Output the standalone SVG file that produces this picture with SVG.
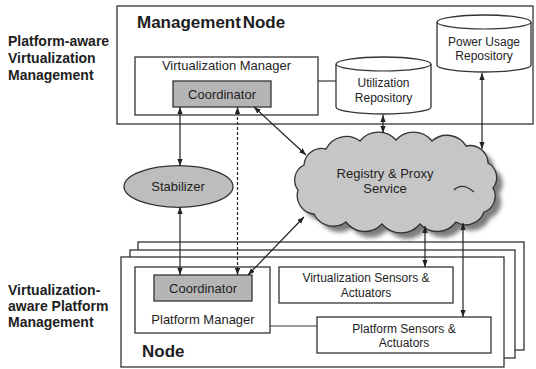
<svg xmlns="http://www.w3.org/2000/svg" width="536" height="369" viewBox="0 0 536 369">
  <style>
    .box { fill: #ffffff; stroke: #333333; stroke-width: 1.3; }
    .gray { fill: #b5b5b5; stroke: #333333; stroke-width: 1.3; }
    .lbl { font-family: "Liberation Sans", Arial, sans-serif; font-size: 13px; fill: #1e1e1e; }
    .sm { font-family: "Liberation Sans", Arial, sans-serif; font-size: 12px; fill: #1e1e1e; }
    .hd { font-family: "Liberation Sans", Arial, sans-serif; font-size: 14px; font-weight: bold; fill: #1e1e1e; }
    .title { font-family: "Liberation Sans", Arial, sans-serif; font-size: 17px; font-weight: bold; fill: #1e1e1e; }
    .link { fill: none; stroke: #222222; stroke-width: 1.2; marker-start: url(#ah); marker-end: url(#ah); }
    .plain { fill: none; stroke: #333333; stroke-width: 1.2; }
    .dash { stroke-dasharray: 3 2; }
  </style>
  <defs>
    <marker id="ah" viewBox="0 0 8 6" refX="8" refY="3" markerWidth="7" markerHeight="5.5" markerUnits="userSpaceOnUse" orient="auto-start-reverse">
      <path d="M0,0 L8,3 L0,6 z" fill="#222222"/>
    </marker>
    <filter id="soft" x="-10%" y="-10%" width="120%" height="120%">
      <feGaussianBlur stdDeviation="2"/>
    </filter>
    <path id="cloudShape" d="M298,190 A16.7,16.7 0 0 1 304,165 A17.7,17.7 0 0 1 326,149 A22.7,22.7 0 0 1 360,141 A23.4,23.4 0 0 1 396,140 A23.4,23.4 0 0 1 432,141 A22.3,22.3 0 0 1 466,146 A18,18 0 0 1 488,163 A16.6,16.6 0 0 1 493,188 A16.7,16.7 0 0 1 484,212 A19.3,19.3 0 0 1 456,222 A23.4,23.4 0 0 1 420,224 A24.7,24.7 0 0 1 382,224 A23.4,23.4 0 0 1 346,222 A21.4,21.4 0 0 1 314,214 A18.7,18.7 0 0 1 298,190 Z"/>
  </defs>

  <!-- side captions -->
  <g id="caption-top">
    <text class="hd" x="8" y="46">Platform-aware</text>
    <text class="hd" x="8" y="63">Virtualization</text>
    <text class="hd" x="8" y="80">Management</text>
  </g>
  <g id="caption-bottom">
    <text class="hd" x="8" y="295">Virtualization-</text>
    <text class="hd" x="8" y="311">aware Platform</text>
    <text class="hd" x="8" y="327">Management</text>
  </g>

  <!-- management node -->
  <g id="management-node">
    <rect class="box" x="117" y="6" width="416" height="118" stroke-width="1.6"/>
    <text class="title" x="137" y="28" word-spacing="-3">Management Node</text>
  </g>
  <g id="virtualization-manager">
    <rect class="box" x="135" y="57" width="183" height="58"/>
    <text class="lbl" x="226.5" y="70" text-anchor="middle">Virtualization Manager</text>
  </g>
  <g id="coordinator-top">
    <rect class="gray" x="173" y="81" width="98" height="26"/>
    <text class="lbl" x="222" y="98.5" text-anchor="middle">Coordinator</text>
  </g>
  <g id="utilization-repository">
    <path class="box" d="M336,64 A47.5,7 0 0 1 431,64 V107 A47.5,7 0 0 1 336,107 Z"/>
    <path class="plain" d="M336,64 A47.5,7 0 0 0 431,64"/>
    <text class="sm" x="383.5" y="87" text-anchor="middle">Utilization</text>
    <text class="sm" x="383.5" y="102" text-anchor="middle">Repository</text>
  </g>
  <g id="power-usage-repository">
    <path class="box" d="M437,22 A47,7 0 0 1 531,22 V65 A47,7 0 0 1 437,65 Z"/>
    <path class="plain" d="M437,22 A47,7 0 0 0 531,22"/>
    <text class="sm" x="484" y="46" text-anchor="middle">Power Usage</text>
    <text class="sm" x="484" y="60" text-anchor="middle">Repository</text>
  </g>

  <!-- stabilizer -->
  <g id="stabilizer">
    <ellipse cx="178.5" cy="186.5" rx="54.5" ry="20.8" fill="#bdbdbd" stroke="#333333" stroke-width="1.3"/>
    <text class="lbl" x="178" y="191" text-anchor="middle">Stabilizer</text>
  </g>

  <!-- registry cloud -->
  <g id="registry-proxy">
    <use href="#cloudShape" transform="translate(6,6)" fill="#7d7d7d" filter="url(#soft)"/>
    <use href="#cloudShape" fill="#c6c6c6" stroke="#333333" stroke-width="1.3"/>
    <path class="plain" d="M454,190 Q462,182 474,192"/>
    <text class="lbl" x="385" y="178" text-anchor="middle">Registry &amp; Proxy</text>
    <text class="lbl" x="385" y="193" text-anchor="middle">Service</text>
  </g>

  <!-- platform node stack -->
  <g id="node">
    <rect class="box" x="138" y="242" width="386" height="108"/>
    <rect class="box" x="130" y="250" width="385" height="108"/>
    <rect class="box" x="121" y="257" width="383" height="110"/>
    <text class="title" x="142" y="357">Node</text>
  </g>
  <g id="platform-manager">
    <rect class="box" x="135" y="267" width="135" height="66"/>
    <text class="lbl" x="203" y="323.5" text-anchor="middle">Platform Manager</text>
  </g>
  <g id="coordinator-bottom">
    <rect class="gray" x="154" y="275" width="98" height="26"/>
    <text class="lbl" x="203" y="292.5" text-anchor="middle">Coordinator</text>
  </g>
  <g id="virtualization-sensors">
    <rect class="box" x="279" y="267" width="174" height="36"/>
    <text class="sm" x="366" y="282" text-anchor="middle">Virtualization Sensors &amp;</text>
    <text class="sm" x="366" y="297" text-anchor="middle">Actuators</text>
  </g>
  <g id="platform-sensors">
    <rect class="box" x="317" y="317" width="174" height="36"/>
    <text class="sm" x="404" y="333" text-anchor="middle">Platform Sensors &amp;</text>
    <text class="sm" x="404" y="347" text-anchor="middle">Actuators</text>
  </g>

  <!-- connectors -->
  <g id="connectors">
    <path class="plain" d="M318,81 H336"/>
    <path class="plain" d="M270,326 H317"/>
    <path class="link" d="M180,107 V166"/>
    <path class="link" d="M180,207 V275"/>
    <path class="link dash" d="M237.5,107 V275"/>
    <path class="link" d="M254,107 L306,155"/>
    <path class="link" d="M248,275 L304,217"/>
    <path class="link" d="M383,115 V133"/>
    <path class="link" d="M482,73 V149"/>
    <path class="link" d="M425,226 V267"/>
    <path class="link" d="M463,223 V317"/>
  </g>
</svg>
